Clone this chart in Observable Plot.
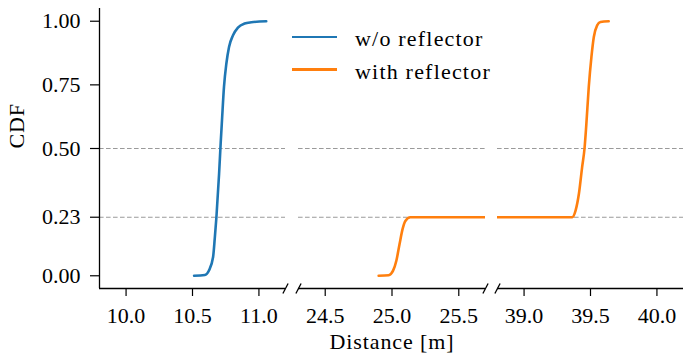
<!DOCTYPE html>
<html>
<head>
<meta charset="utf-8">
<script src="https://cdn.jsdelivr.net/npm/d3@7"></script>
<script src="https://cdn.jsdelivr.net/npm/@observablehq/plot@0.6"></script>
<style>
  body { margin: 0; background: #fff; }
  #chart { position: relative; width: 683px; height: 359px; font-family: "Liberation Serif", serif; }
  #chart svg { position: absolute; top: 0; }
  .legend { position: absolute; left: 292px; top: 0; z-index: 2; font-size: 22px; color: #000; }
  .legend .row { position: absolute; left: 0; display: flex; align-items: center; white-space: nowrap; }
  .legend .swatch { width: 45px; height: 2.6px; margin-right: 18px; }
  .legend .label { letter-spacing: 1.2px; line-height: 22px; position: relative; top: 2px; }
</style>
</head>
<body>
<div id="chart"></div>
<script>
// CDF of measured distance, with and without the reflector
const noReflDist = [10.512, 10.593, 10.623, 10.655, 10.668, 10.68, 10.70, 10.712, 10.722, 10.737, 10.755, 10.775, 10.805, 10.842, 10.892, 10.943, 11.055];
const noReflCdf  = [0, 0.003, 0.02, 0.074, 0.15, 0.23, 0.40, 0.52, 0.611, 0.742, 0.834, 0.899, 0.945, 0.975, 0.991, 0.996, 1.0];

const reflDist = [24.9, 24.975, 25.008, 25.033, 25.057, 25.08, 25.1, 25.137, 39.362, 39.388, 39.413, 39.437, 39.455, 39.468, 39.487, 39.507, 39.525, 39.55, 39.575, 39.637];
const reflCdf  = [0, 0.002, 0.02, 0.06, 0.126, 0.185, 0.215, 0.23, 0.23, 0.257, 0.323, 0.427, 0.50, 0.59, 0.742, 0.86, 0.938, 0.984, 0.997, 1.0];

const seriesNames = ["w/o reflector", "with reflector"];
const seriesColors = ["#1f77b4", "#ff7f0e"];

// broken x axis: three windows onto the distance range
const xDomains = [[9.8, 11.2], [24.3, 25.7], [38.8, 40.2]];
const xTicks = [[10.0, 10.5, 11.0], [24.5, 25.0, 25.5], [39.0, 39.5, 40.0]];
const yDomain = [-0.05, 1.05];
const yTicks = [0, 0.23, 0.5, 0.75, 1.0];
const refLevels = [0.5, 0.23];
const xLabel = "Distance [m]";
const yLabel = "CDF";

const rows = [
  ...noReflDist.map((d, i) => ({dist: d, cdf: noReflCdf[i], series: seriesNames[0]})),
  ...reflDist.map((d, i) => ({dist: d, cdf: reflCdf[i], series: seriesNames[1]}))
];

const panels = [
  {left: 0,   width: 291, marginLeft: 99, marginRight: 6, breaks: ["right"]},
  {left: 292, width: 199, marginLeft: 6,  marginRight: 6, breaks: ["left", "right"]},
  {left: 491, width: 192, marginLeft: 6,  marginRight: 0, breaks: ["left"]}
];

const chart = document.getElementById("chart");

panels.forEach((p, k) => {
  const dom = xDomains[k];
  const innerW = p.width - p.marginLeft - p.marginRight;
  const unitX = (dom[1] - dom[0]) / innerW;          // data units per pixel
  const unitY = (yDomain[1] - yDomain[0]) / (359 - 8 - 71);
  const breakAt = p.breaks.map(s => s === "left" ? dom[0] : dom[1]);

  const marks = [
    Plot.ruleY(refLevels, {stroke: "#9a9a9a", strokeWidth: 1.2, strokeDasharray: "4.6,2.4"}),
    Plot.line(rows, {x: "dist", y: "cdf", z: "series", stroke: "series", strokeWidth: 2.6, curve: "monotone-x", clip: true}),
    Plot.ruleY([yDomain[0]], {stroke: "#000", strokeWidth: 1.3}),
    Plot.axisX({ticks: xTicks[k], tickFormat: d => d.toFixed(1), tickSize: 8, tickPadding: 11, label: null, strokeWidth: 1.2}),
    // diagonal marks where the axis is broken
    Plot.link(breakAt, {
      x1: d => d - 2.6 * unitX, x2: d => d + 2.6 * unitX,
      y1: () => yDomain[0] - 5 * unitY, y2: () => yDomain[0] + 5 * unitY,
      stroke: "#000", strokeWidth: 1.3
    })
  ];
  if (k === 0) {
    marks.push(
      Plot.ruleX([dom[0]], {stroke: "#000", strokeWidth: 1.3}),
      Plot.axisY({ticks: yTicks, tickFormat: d => d.toFixed(2), tickSize: 9, tickPadding: 10, label: null, strokeWidth: 1.2}),
      Plot.text([yLabel], {frameAnchor: "left", dx: -83, rotate: -90, fontSize: 22})
    );
  }
  if (k === 1) {
    marks.push(Plot.text([xLabel], {frameAnchor: "bottom", dy: 60, fontSize: 22}));
  }

  const svg = Plot.plot({
    width: p.width,
    height: 359,
    marginLeft: p.marginLeft,
    marginRight: p.marginRight,
    marginTop: 8,
    marginBottom: 71,
    x: {domain: dom},
    y: {domain: yDomain, axis: null},
    color: {domain: seriesNames, range: seriesColors},
    style: {fontFamily: "Liberation Serif, serif", fontSize: "22px", background: "transparent", overflow: "visible", color: "#000"},
    marks
  });
  svg.style.left = p.left + "px";
  chart.appendChild(svg);
});

// spread the letters of the axis titles slightly
chart.querySelectorAll("text").forEach(t => {
  if (t.textContent === xLabel || t.textContent === yLabel) t.setAttribute("letter-spacing", "0.9");
});

// legend
const legend = document.createElement("div");
legend.className = "legend";
seriesNames.forEach((name, i) => {
  const row = document.createElement("div");
  row.className = "row";
  row.style.top = (26 + i * 32.5) + "px";
  const sw = document.createElement("div");
  sw.className = "swatch";
  sw.style.background = seriesColors[i];
  const lab = document.createElement("span");
  lab.className = "label";
  lab.textContent = name;
  row.appendChild(sw);
  row.appendChild(lab);
  legend.appendChild(row);
});
chart.appendChild(legend);
</script>
</body>
</html>
